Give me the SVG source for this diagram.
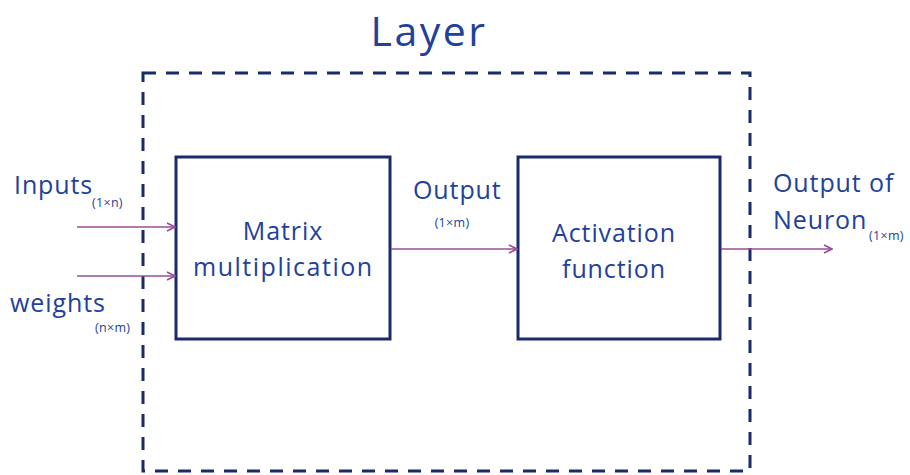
<svg xmlns="http://www.w3.org/2000/svg" width="910" height="475" viewBox="0 0 910 475">
  <defs>
    <marker id="arr" viewBox="0 0 10 10" refX="9" refY="5" markerWidth="10" markerHeight="10" markerUnits="userSpaceOnUse" orient="auto">
      <path d="M1,1 L9,5 L1,9" fill="none" stroke="#9a4c9a" stroke-width="1.6"/>
    </marker>
    <style>
      .box { fill: #ffffff; stroke: #1b2a6b; stroke-width: 3; }
      .layer { fill: none; stroke: #1b2a6b; stroke-width: 3; stroke-dasharray: 13 10; }
      .wire { stroke: #9a4c9a; stroke-width: 1.6; fill: none; marker-end: url(#arr); }
      text { font-family: "Open Sans", "Liberation Sans", sans-serif; fill: #22419a; }
      .lbl { font-size: 25px; letter-spacing: 0.9px; }
      .sub { font-size: 12.5px; letter-spacing: 0.3px; }
      .mid { text-anchor: middle; }
    </style>
  </defs>

  <g id="layer">
    <rect class="layer" x="143" y="73" width="607" height="398"/>
    <text class="mid" x="429" y="46" font-size="41" letter-spacing="2.5">Layer</text>
  </g>

  <g id="matrix-multiplication">
    <rect class="box" x="176" y="157" width="214" height="182"/>
    <text class="lbl mid" x="283" y="240">Matrix</text>
    <text class="lbl mid" x="283" y="276" textLength="180">multiplication</text>
  </g>

  <g id="activation-function">
    <rect class="box" x="518" y="157" width="202" height="182"/>
    <text class="lbl mid" x="614" y="242">Activation</text>
    <text class="lbl mid" x="614" y="278">function</text>
  </g>

  <g id="connectors">
    <line class="wire" x1="77" y1="227" x2="175" y2="227"/>
    <line class="wire" x1="77" y1="276" x2="175" y2="276"/>
    <line class="wire" x1="391" y1="249" x2="517" y2="249"/>
    <line class="wire" x1="721" y1="249" x2="832" y2="249"/>
  </g>

  <g id="labels">
    <text class="lbl" x="14" y="194">Inputs</text>
    <text class="sub" x="92" y="207">(1×n)</text>
    <text class="lbl" x="10" y="312">weights</text>
    <text class="sub" x="95" y="332">(n×m)</text>
    <text class="lbl" x="413" y="199">Output</text>
    <text class="sub mid" x="452" y="227">(1×m)</text>
    <text class="lbl" x="773" y="192">Output of</text>
    <text class="lbl" x="773" y="229">Neuron</text>
    <text class="sub" x="869" y="240">(1×m)</text>
  </g>
</svg>
